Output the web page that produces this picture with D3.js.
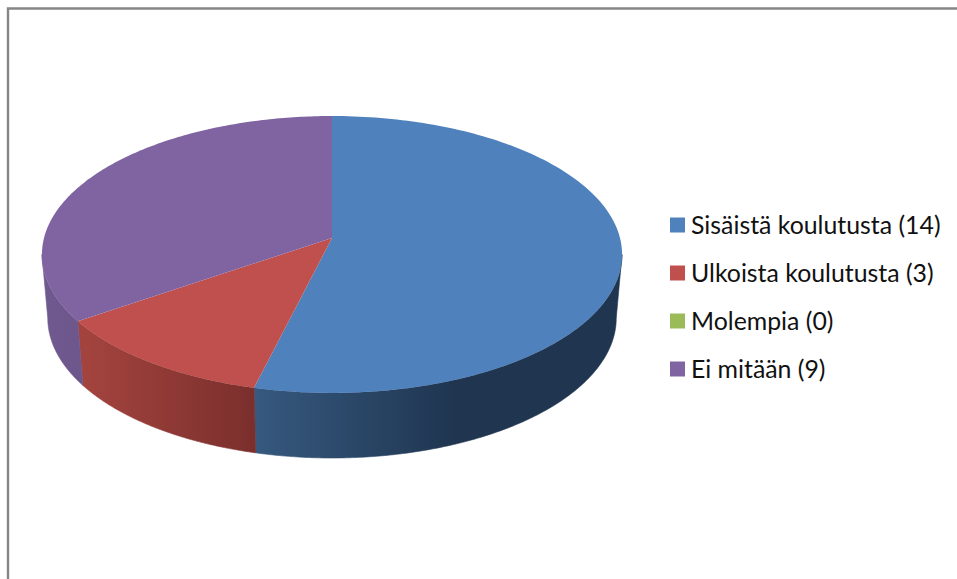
<!DOCTYPE html>
<html><head><meta charset="utf-8">
<script src="https://cdn.jsdelivr.net/npm/d3@7/dist/d3.min.js"></script>
<style>html,body{margin:0;padding:0;background:#fff}svg{display:block}</style>
</head><body><svg id="c" width="957" height="579"></svg>
<script>
const categories = ["Sisäistä koulutusta (14)", "Ulkoista koulutusta (3)", "Molempia (0)", "Ei mitään (9)"];
const values = [14, 3, 0, 9];
const colors = ["#4f81bd", "#c0504d", "#9bbb59", "#8064a2"];
const sideLeft = ["#36597f", "#a5443f", "#6f8a40", "#70598f"];
const sideRight = ["#1f3550", "#7a2f2c", "#5a7030", "#6c568a"];
const sideEnd = [0.55, 1, 1, 1];

const svg = d3.select("#c");
const k = 0.119;
const face = { x0: 332, y0: 238, a: 288, b: 136.5 };
const base = { shrink: 0.98, yc: 318, ry: 140 };
const project = t => {
  const d = 1 + k * Math.cos(t);
  return [face.x0 + face.a * Math.sin(t) / d, face.y0 - face.b * Math.cos(t) / d];
};
const rimMax = face.a / Math.sqrt(1 - k * k);
const projectBase = t => {
  const dx = (project(t)[0] - face.x0) * base.shrink;
  const u = Math.min(1, Math.abs(dx) / (rimMax * base.shrink));
  return [face.x0 + dx, base.yc + base.ry * Math.sqrt(1 - u * u)];
};
const arcs = d3.pie().sort(null).value(d => d)(values);
const samples = (s, e) => d3.range(0, 161).map(i => s + (e - s) * i / 160);
const line = d3.line();

// frame
svg.append("path").attr("d", "M8 579V8.5H957").attr("fill", "none").attr("stroke", "#868686").attr("stroke-width", 2.4);

const defs = svg.append("defs");
const tRight = Math.PI - Math.acos(k);
const tLeft = Math.PI + Math.acos(k);
arcs.forEach((a, i) => {
  if (a.endAngle <= a.startAngle) return;
  const s = Math.max(a.startAngle, tRight), e = Math.min(a.endAngle, tLeft);
  if (e <= s) return;
  const ts = samples(s, e);
  const pts = ts.map(project);
  const ptsB = ts.map(projectBase).reverse();
  const xs = pts.concat(ptsB).map(p => p[0]);
  const g = defs.append("linearGradient").attr("id", "side" + i)
    .attr("gradientUnits", "userSpaceOnUse")
    .attr("x1", d3.min(xs)).attr("x2", d3.max(xs)).attr("y1", 0).attr("y2", 0);
  g.append("stop").attr("offset", 0).attr("stop-color", sideLeft[i]);
  g.append("stop").attr("offset", sideEnd[i]).attr("stop-color", sideRight[i]);
  svg.append("path").attr("d", line(pts.concat(ptsB)) + "Z")
    .attr("fill", `url(#side${i})`).attr("stroke", `url(#side${i})`).attr("stroke-width", 0.6);
});
arcs.forEach((a, i) => {
  if (a.endAngle <= a.startAngle) return;
  const pts = [[face.x0, face.y0]].concat(samples(a.startAngle, a.endAngle).map(project));
  svg.append("path").attr("d", line(pts) + "Z").attr("fill", colors[i]);
});

// legend
const legendY = d3.scalePoint().domain(categories).range([225, 369]);
const lg = svg.selectAll("g.l").data(categories).join("g").attr("class", "l")
  .attr("transform", d => `translate(670,${legendY(d)})`);
lg.append("rect").attr("x", 0).attr("y", -7.5).attr("width", 15).attr("height", 15).attr("fill", (d, i) => colors[i]);
lg.append("text").attr("x", 21).attr("y", 9).attr("font-family", "Lato, Carlito, sans-serif").attr("font-size", 24.85).attr("fill", "#111").text(d => d);
</script></body></html>
